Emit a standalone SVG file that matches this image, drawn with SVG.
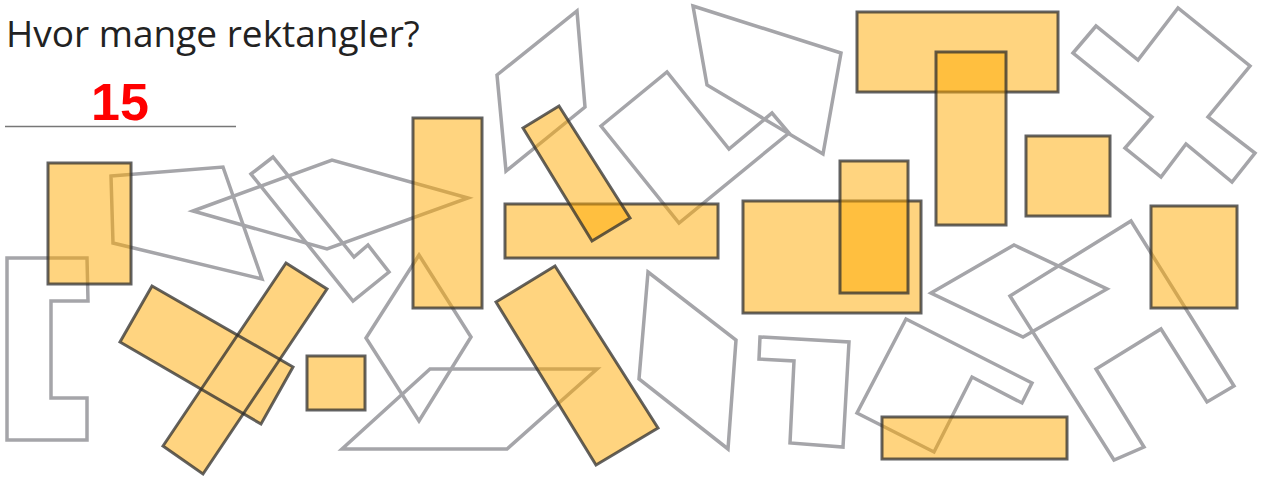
<svg xmlns="http://www.w3.org/2000/svg" width="1262" height="477" viewBox="0 0 1262 477">
<style>
.g{fill:none;stroke:#a5a5a9;stroke-width:3.5;stroke-linejoin:miter}
.r{fill:#ffaa00;fill-opacity:0.5;stroke:#2e2e2e;stroke-opacity:0.75;stroke-width:3}
.f{fill:#ffd480;stroke:none}
.s{fill:none;stroke:#2e2e2e;stroke-opacity:0.75;stroke-width:3}
.t{font-family:"Open Sans","Liberation Sans",sans-serif;font-size:37px;fill:#222}
.n{font-family:"Liberation Sans",Arial,sans-serif;font-weight:bold;font-size:52px;fill:#ff0000}
</style>
<rect width="1262" height="477" fill="#fff"/>
<g id="title">
<text class="t" x="6" y="47">Hvor mange rektangler?</text>
<text class="n" x="120" y="120" text-anchor="middle">15</text>
<line x1="5" y1="126.5" x2="236" y2="126.5" stroke="#777" stroke-width="1.3"/>
</g>
<g id="outlines">
<polygon class="g" points="111,176 223,167 262,279 113,243"/>
<polygon class="g" points="7,258 87,258 88,301 51,301 51,398 87,398 87,440 7,440"/>
<polygon class="g" points="193,211 332,160 468,198 327,249"/>
<polygon class="g" points="251,174 273,157 354,257 368,245 389,272 353,301"/>
<polygon class="g" points="497,75 577,11 585,107 506,171"/>
<polygon class="g" points="601,126 667,72 729,149 772,113 789,133 679,223"/>
<polygon class="g" points="693,6 841,53 823,154 707,85"/>
<polygon class="g" points="1073,53 1096,26 1138,60 1178,8 1250,66 1208,117 1255,153 1232,182 1186,144 1161,177 1125,148 1152,117"/>
<polygon class="g" points="419,255 471,337 419,421 366,338"/>
<polygon class="g" points="430,369 597,369 507,449 342,449"/>
<polygon class="g" points="648,272 736,340 728,449 639,379"/>
<polygon class="g" points="931,293 1014,245 1107,289 1023,337"/>
<polygon class="g" points="1010,296 1131,221 1234,386 1207,402 1161,329 1096,369 1144,447 1114,460"/>
<polygon class="g" points="760,337 849,342 843,447 790,443 794,361 759,359"/>
<polygon class="g" points="906,319 1032,383 1022,403 972,377 934,452 857,413"/>
</g>
<g id="rectangles">
<rect class="r" x="48" y="163" width="83" height="121"/>
<g id="cross">
<polygon class="f" points="163,446 203,474 327,289 286,263"/>
<polygon class="f" points="152,286 293,367 261,424 120,342"/>
<polygon class="s" points="163,446 203,474 327,289 286,263"/>
<polygon class="s" points="152,286 293,367 261,424 120,342"/>
</g>
<rect class="r" x="307" y="356" width="58" height="54"/>
<rect class="r" x="413" y="118" width="69" height="190"/>
<rect class="r" x="505" y="204" width="213" height="54"/>
<polygon class="r" points="523,128 559,106 630,218 592,241"/>
<polygon class="r" points="496,302 555,266 658,428 596,465"/>
<rect class="r" x="857" y="12" width="201" height="80"/>
<rect class="r" x="936" y="52" width="70" height="173"/>
<rect class="r" x="1026" y="136" width="84" height="80"/>
<rect class="r" x="743" y="201" width="178" height="112"/>
<rect class="r" x="840" y="161" width="68" height="132"/>
<rect class="r" x="1151" y="206" width="86" height="102"/>
<rect class="r" x="882" y="417" width="185" height="42"/>
</g>
</svg>
